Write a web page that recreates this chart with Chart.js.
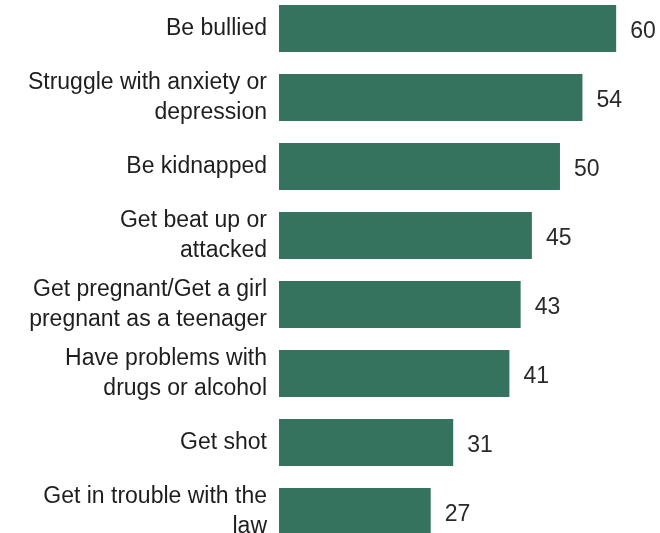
<!DOCTYPE html>
<html>
<head>
<meta charset="utf-8">
<script src="https://cdn.jsdelivr.net/npm/chart.js@4/dist/chart.umd.min.js"></script>
<style>
    html, body { margin: 0; padding: 0; background: #fff; }
    #wrap { position: relative; width: 660px; height: 533px; overflow: hidden; }
    #box { position: absolute; left: 0; top: -6px; width: 660px; height: 552px; }
</style>
</head>
<body>
<div id="wrap"><div id="box"><canvas id="chart"></canvas></div></div>
<script>
// Share of parents worried their child might ...
const categories = [
    ['Be bullied'],
    ['Struggle with anxiety or', 'depression'],
    ['Be kidnapped'],
    ['Get beat up or', 'attacked'],
    ['Get pregnant/Get a girl', 'pregnant as a teenager'],
    ['Have problems with', 'drugs or alcohol'],
    ['Get shot'],
    ['Get in trouble with the', 'law']
];
const values = [60, 54, 50, 45, 43, 41, 31, 27];

const FONT = '"Liberation Sans", Arial, sans-serif';

// write the number just past the end of each bar
const valueLabels = {
    id: 'valueLabels',
    afterDatasetsDraw(chart) {
        const ctx = chart.ctx;
        const meta = chart.getDatasetMeta(0);
        ctx.save();
        ctx.font = '23px ' + FONT;
        ctx.fillStyle = '#2a2a2a';
        ctx.textAlign = 'left';
        ctx.textBaseline = 'middle';
        meta.data.forEach((bar, i) => {
            ctx.fillText(values[i], bar.x + 14, bar.y + 3);
        });
        ctx.restore();
    }
};

new Chart(document.getElementById('chart'), {
    type: 'bar',
    data: {
        labels: categories,
        datasets: [{
            data: values,
            backgroundColor: '#36735f',
            borderWidth: 0,
            categoryPercentage: 1,
            barPercentage: 0.68
        }]
    },
    options: {
        indexAxis: 'y',
        responsive: true,
        maintainAspectRatio: false,
        animation: false,
        layout: { padding: 0 },
        scales: {
            x: {
                display: false,
                min: 0,
                max: 67.8
            },
            y: {
                afterFit(axis) {
                    axis.width = 279;
                    axis.paddingTop = 0;
                    axis.paddingBottom = 0;
                },
                grid: { display: false },
                border: { display: false },
                ticks: {
                    color: '#1e1e1e',
                    padding: 4,
                    font: { family: FONT, size: 23, lineHeight: 1.28 }
                }
            }
        },
        plugins: {
            legend: { display: false },
            tooltip: { enabled: false }
        }
    },
    plugins: [valueLabels]
});
</script>
</body>
</html>
